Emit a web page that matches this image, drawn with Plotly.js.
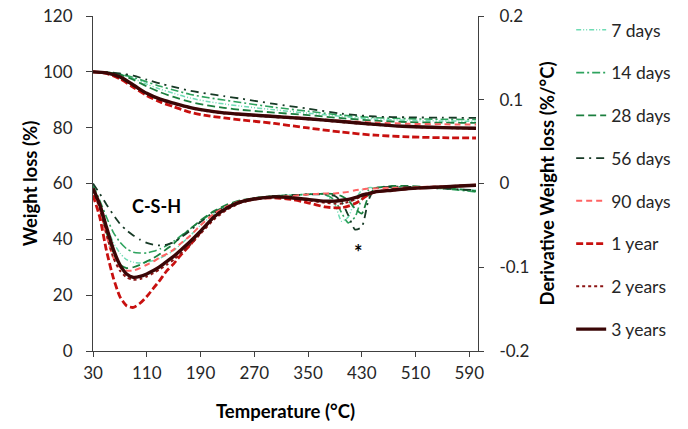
<!DOCTYPE html>
<html>
<head>
<meta charset="utf-8">
<script src="https://cdn.plot.ly/plotly-3.0.1.min.js"></script>
<style>html,body{margin:0;padding:0;background:#fff;}#chart{width:688px;height:429px;}</style>
</head>
<body>
<div id="chart"></div>
<script>
// ---- Data ----
var seriesNames = ['7 days', '14 days', '28 days', '56 days', '90 days', '1 year', '2 years', '3 years'];

// Thermogravimetric curves (left axis, Weight loss %)
var tgTemp = [30, 50, 70, 90, 110, 130, 150, 175, 200, 225, 250, 300, 350, 400, 450, 500, 550, 600];
var tg7d   = [100, 99.8, 99.1, 97.6, 95.6, 93.8, 92.3, 90.6, 89.4, 88.5, 87.7, 86.4, 85.2, 84.0, 83.1, 82.6, 82.4, 82.3];
var tg14d  = [100, 99.8, 99.2, 98.0, 96.4, 94.8, 93.5, 91.9, 90.8, 89.9, 89.0, 87.3, 85.9, 84.5, 83.6, 83.2, 83.0, 82.9];
var tg28d  = [100, 99.8, 99.0, 97.2, 94.8, 92.7, 91.0, 89.2, 88.0, 87.1, 86.4, 85.4, 84.5, 83.4, 82.5, 82.0, 81.8, 81.7];
var tg56d  = [100, 99.9, 99.4, 98.6, 97.2, 95.8, 94.6, 93.2, 92.2, 91.3, 90.4, 88.5, 86.8, 85.0, 84.0, 83.7, 83.6, 83.5];
var tg90d  = [100, 99.5, 97.8, 94.8, 92.0, 90.0, 88.6, 87.2, 86.2, 85.5, 85.0, 84.2, 83.4, 82.5, 81.8, 81.4, 81.2, 81.1];
var tg1y   = [100, 99.4, 97.5, 94.5, 91.5, 89.2, 87.5, 85.5, 84.3, 83.5, 82.8, 81.5, 79.9, 78.4, 77.3, 76.7, 76.4, 76.3];
var tg2y   = [100, 99.6, 98.0, 95.0, 92.0, 90.0, 88.6, 87.0, 85.9, 85.1, 84.6, 83.8, 83.0, 82.0, 81.0, 80.3, 79.9, 79.7];
var tg3y   = [100, 99.6, 98.2, 95.3, 92.3, 90.2, 88.8, 87.2, 86.1, 85.3, 84.8, 84.0, 83.2, 82.2, 81.2, 80.4, 80.0, 79.8];

// Derivative curves (right axis, %/°C)
var dtgTemp = [30, 40, 50, 60, 70, 80, 90, 100, 110, 120, 130, 140, 150, 160, 175, 190, 210, 230, 250, 275, 300, 325, 350, 375, 390, 400, 410, 420, 430, 440, 450, 475, 500, 525, 550, 575, 600];
var dtg7d  = [-0.004, -0.025, -0.050, -0.070, -0.083, -0.091, -0.094, -0.095, -0.094, -0.092, -0.089, -0.085, -0.080, -0.073, -0.062, -0.050, -0.037, -0.028, -0.021, -0.017, -0.015, -0.014, -0.013, -0.013, -0.025, -0.045, -0.040, -0.020, -0.008, -0.005, -0.005, -0.004, -0.004, -0.005, -0.006, -0.007, -0.008];
var dtg14d = [-0.002, -0.020, -0.040, -0.058, -0.070, -0.078, -0.082, -0.083, -0.083, -0.081, -0.078, -0.074, -0.069, -0.063, -0.054, -0.045, -0.034, -0.026, -0.021, -0.017, -0.015, -0.014, -0.013, -0.013, -0.020, -0.035, -0.047, -0.040, -0.018, -0.008, -0.005, -0.004, -0.004, -0.005, -0.006, -0.008, -0.010];
var dtg28d = [-0.004, -0.028, -0.058, -0.083, -0.097, -0.101, -0.100, -0.097, -0.093, -0.089, -0.084, -0.078, -0.072, -0.064, -0.054, -0.044, -0.033, -0.025, -0.020, -0.017, -0.015, -0.014, -0.013, -0.012, -0.013, -0.015, -0.020, -0.030, -0.036, -0.015, -0.006, -0.003, -0.003, -0.004, -0.005, -0.007, -0.009];
var dtg56d = [0.000, -0.012, -0.025, -0.037, -0.048, -0.056, -0.062, -0.067, -0.071, -0.073, -0.074, -0.073, -0.070, -0.065, -0.056, -0.046, -0.035, -0.027, -0.021, -0.017, -0.015, -0.014, -0.013, -0.013, -0.015, -0.022, -0.038, -0.055, -0.052, -0.020, -0.006, -0.004, -0.004, -0.005, -0.006, -0.007, -0.008];
var dtg90d = [-0.006, -0.030, -0.062, -0.088, -0.100, -0.104, -0.104, -0.101, -0.097, -0.093, -0.088, -0.084, -0.079, -0.072, -0.062, -0.050, -0.036, -0.027, -0.021, -0.018, -0.016, -0.015, -0.013, -0.012, -0.012, -0.011, -0.010, -0.008, -0.007, -0.006, -0.006, -0.005, -0.005, -0.004, -0.004, -0.003, -0.002];
var dtg1y  = [-0.014, -0.040, -0.080, -0.112, -0.135, -0.146, -0.148, -0.143, -0.135, -0.125, -0.115, -0.104, -0.096, -0.086, -0.073, -0.058, -0.040, -0.029, -0.022, -0.018, -0.017, -0.019, -0.023, -0.028, -0.029, -0.029, -0.027, -0.024, -0.019, -0.013, -0.010, -0.008, -0.006, -0.005, -0.004, -0.003, -0.002];
var dtg2y  = [-0.008, -0.030, -0.060, -0.088, -0.104, -0.112, -0.115, -0.114, -0.111, -0.107, -0.102, -0.097, -0.091, -0.084, -0.073, -0.060, -0.043, -0.031, -0.023, -0.018, -0.016, -0.017, -0.020, -0.023, -0.024, -0.024, -0.022, -0.019, -0.015, -0.012, -0.010, -0.007, -0.006, -0.005, -0.004, -0.003, -0.002];
var dtg3y  = [-0.006, -0.025, -0.052, -0.078, -0.097, -0.108, -0.112, -0.111, -0.108, -0.104, -0.099, -0.093, -0.087, -0.080, -0.069, -0.057, -0.040, -0.029, -0.022, -0.018, -0.016, -0.017, -0.019, -0.021, -0.021, -0.020, -0.019, -0.017, -0.014, -0.012, -0.010, -0.008, -0.006, -0.005, -0.004, -0.003, -0.002];

var xTickVals = [30, 110, 190, 270, 350, 430, 510, 590];
var yTickVals = [0, 20, 40, 60, 80, 100, 120];
var y2TickVals = [-0.2, -0.1, 0, 0.1, 0.2];
var y2TickText = ['-0.2', '-0.1', '0', '0.1', '0.2'];

// ---- Styles ----
var styles = [
  {color: '#6fdcb4', width: 1.5, dash: '5px,2px,1px,2px,1px,2px'},
  {color: '#2ea35e', width: 1.6, dash: '8px,3px,2px,3px'},
  {color: '#1b7f3e', width: 1.8, dash: '8px,4px'},
  {color: '#173a26', width: 1.8, dash: '8px,5px,2px,5px'},
  {color: '#ff6363', width: 2.0, dash: '6px,4px'},
  {color: '#c8100f', width: 2.8, dash: '7px,3px'},
  {color: '#8c1414', width: 2.0, dash: 'dot'},
  {color: '#3a0606', width: 3.4, dash: 'solid'}
];
var tgSets = [tg7d, tg14d, tg28d, tg56d, tg90d, tg1y, tg2y, tg3y];
var dtgSets = [dtg7d, dtg14d, dtg28d, dtg56d, dtg90d, dtg1y, dtg2y, dtg3y];

var traces = [];
for (var i = 0; i < seriesNames.length; i++) {
  traces.push({
    x: tgTemp, y: tgSets[i], name: seriesNames[i], type: 'scatter', mode: 'lines',
    legendgroup: 'g' + i, line: {color: styles[i].color, width: styles[i].width, dash: styles[i].dash, shape: 'spline', smoothing: 0.8},
    yaxis: 'y'
  });
}
for (var j = 0; j < seriesNames.length; j++) {
  traces.push({
    x: dtgTemp, y: dtgSets[j], name: seriesNames[j], type: 'scatter', mode: 'lines',
    legendgroup: 'g' + j, showlegend: false,
    line: {color: styles[j].color, width: styles[j].width, dash: styles[j].dash, shape: 'spline', smoothing: 0.6},
    yaxis: 'y2'
  });
}

var fontFam = 'Lato, "Open Sans", sans-serif';
var layout = {
  width: 688, height: 429,
  margin: {l: 93, r: 208, t: 15, b: 78, pad: 0},
  paper_bgcolor: '#ffffff', plot_bgcolor: '#ffffff',
  font: {family: fontFam, size: 17, color: '#262626'},
  showlegend: true,
  legend: {
    x: 1.242, xanchor: 'left', y: 1.012, yanchor: 'top',
    traceorder: 'grouped', tracegroupgap: 17, maxheight: 410,
    font: {family: fontFam, size: 17.5, color: '#262626'},
    bgcolor: 'rgba(0,0,0,0)', borderwidth: 0
  },
  xaxis: {
    range: [30, 603], tickvals: xTickVals, ticks: 'outside', ticklen: 5, tickcolor: '#404040',
    showline: true, linecolor: '#404040', linewidth: 1, showgrid: false, zeroline: false,
    tickfont: {family: fontFam, size: 17, color: '#262626'}, ticklabelstandoff: 2,
    title: {text: '<b>Temperature (°C)</b>', font: {family: fontFam, size: 18.5, color: '#000'}, standoff: 22}
  },
  yaxis: {
    range: [0, 120], tickvals: yTickVals, ticks: 'outside', ticklen: 6, tickcolor: '#404040',
    showline: true, linecolor: '#404040', linewidth: 1, showgrid: false, zeroline: false,
    tickfont: {family: fontFam, size: 17, color: '#262626'}, ticklabelstandoff: 10,
    title: {text: '<b>Weight loss (%)</b>', font: {family: fontFam, size: 18.5, color: '#000'}, standoff: 0}
  },
  yaxis2: {
    range: [-0.2, 0.2], tickvals: y2TickVals, ticktext: y2TickText, overlaying: 'y', side: 'right',
    ticks: 'outside', ticklen: 5, tickcolor: '#404040',
    showline: true, linecolor: '#404040', linewidth: 1, showgrid: false, zeroline: false,
    tickfont: {family: fontFam, size: 17, color: '#262626'}, ticklabelstandoff: 12,
    title: {text: '<b>Derivative Weight loss (%/°C)</b>', font: {family: fontFam, size: 18.5, color: '#000'}, standoff: 12}
  },
  annotations: [
    {x: 125, y: 52, xref: 'x', yref: 'y', text: '<b>C-S-H</b>', showarrow: false,
     font: {family: fontFam, size: 18, color: '#000'}},
    {x: 425, y: 35.5, xref: 'x', yref: 'y', text: '<b>*</b>', showarrow: false,
     font: {family: fontFam, size: 20, color: '#000'}}
  ]
};

Plotly.newPlot('chart', traces, layout, {displayModeBar: false, staticPlot: true});
</script>
</body>
</html>
